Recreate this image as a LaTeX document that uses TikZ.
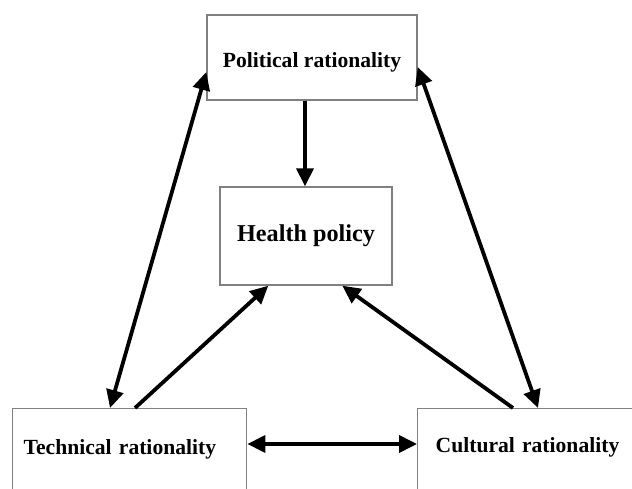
\documentclass[tikz,border=0pt]{standalone}
\usepackage{fontspec}
\setmainfont{Liberation Serif}
\usetikzlibrary{arrows.meta}
\begin{document}
\begin{tikzpicture}[x=1pt,y=-1pt,
  box/.style={draw=black!50, line width=1.4pt, fill=white, inner sep=0pt,
    font=\bfseries\fontsize{21.6}{24}\selectfont},
  link/.style={line width=3.8pt, line cap=butt,
    -{Triangle[length=18pt,width=17pt]}},
  twoway/.style={line width=3.8pt,
    {Triangle[length=18pt,width=17pt]}-{Triangle[length=18pt,width=17pt]}}]
  \clip (0,0) rectangle (632,489);
  \fill[white] (0,0) rectangle (632,489);

  % the four boxes
  \node[box, minimum width=210pt, minimum height=85pt,
    text height=20pt, text depth=0pt] (pol) at (312,57.5)
    {Political rationality};
  \node[box, minimum width=172pt, minimum height=98pt,
    font=\bfseries\fontsize{24.2}{28}\selectfont] (hp) at (306,236)
    {Health policy};
  \node[box, anchor=north west, inner xsep=11pt, inner ysep=10pt,
    text width=212pt, align=left, text height=36pt, text depth=80pt]
    (tech) at (12,408) {Technical rationality};
  \node[box, anchor=north west, inner xsep=18pt, inner ysep=10pt,
    text width=214pt, align=left, text height=34pt, text depth=80pt]
    (cult) at (417,408) {Cultural rationality};

  % influences on health policy
  \draw[link] ([xshift=-7pt]pol.south) -- ([xshift=-7pt]pol.south |- hp.north);
  \draw[link] ([xshift=123pt]tech.north west) -- ([xshift=49pt]hp.south west);
  \draw[link] ([xshift=96pt]cult.north west) -- ([xshift=123pt]hp.south west);

  % mutual relations between the rationalities
  \draw[twoway] ([yshift=-14.5pt]pol.west) -- ([xshift=98pt]tech.north west);
  \draw[twoway] ([yshift=-9.5pt]pol.east) -- ([xshift=121pt]cult.north west);
  \draw[twoway] ([yshift=-36pt]tech.north east) -- ([yshift=-36pt]cult.north west);
\end{tikzpicture}
\end{document}
